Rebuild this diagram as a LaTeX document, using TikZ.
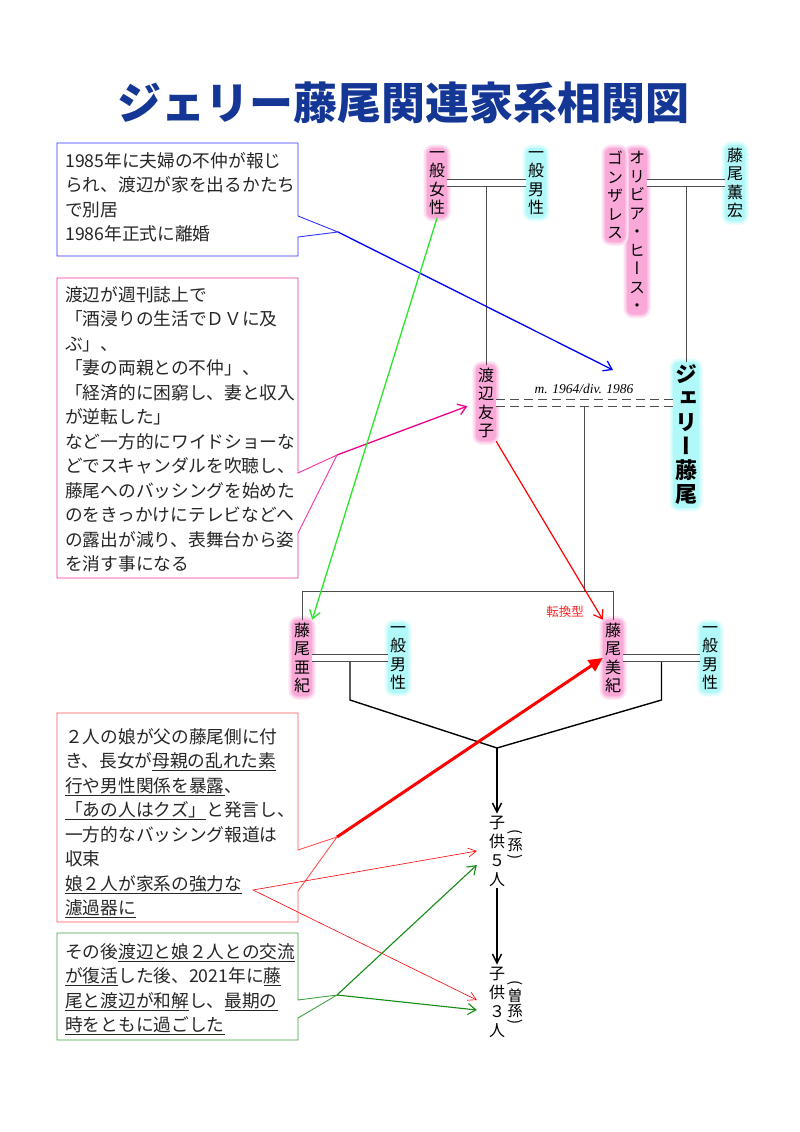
\documentclass[tikz,border=0pt]{standalone}
\usepackage{graphicx}
\usepackage{fontspec}
\setmainfont{Liberation Serif}
\newfontfamily\jpfont{Noto Sans CJK JP}
\newfontfamily\jpvert{Noto Sans CJK JP}[RawFeature=+vert]
\usetikzlibrary{positioning,arrows.meta,calc}

\definecolor{titleblue}{RGB}{20,55,150}
\definecolor{brightgreen}{RGB}{40,230,40}
\definecolor{darkgreen}{RGB}{20,140,20}
\definecolor{notered}{RGB}{255,80,80}
\definecolor{aqua}{RGB}{60,240,240}

\newcommand{\vparen}[1]{\rotatebox[origin=c]{-90}{#1}}

\tikzset{
  vname/.style={font=\jpvert\fontsize{16}{18.5}\selectfont, align=center,
    inner xsep=2pt, inner ysep=3pt, rounded corners=6pt},
  pinkname/.style={vname, preaction={draw=magenta!12, line width=7pt},
    preaction={draw=magenta!24, line width=3pt}, fill=magenta!34},
  cyanname/.style={vname, preaction={draw=aqua!14, line width=7pt},
    preaction={draw=aqua!28, line width=3pt}, fill=aqua!40},
  jerryname/.style={cyanname, font=\jpvert\bfseries\fontsize{22}{24}\selectfont},
  vplain/.style={font=\jpvert\fontsize{16}{19}\selectfont, align=center, inner sep=2pt},
  vsmall/.style={font=\jpfont\fontsize{15}{11}\selectfont, align=center, inner sep=0pt},
  famline/.style={draw=black!70, line width=0.9pt},
  marriage/.style={famline, double, double distance=6pt},
  divorce/.style={marriage, dash pattern=on 9pt off 5pt},
  branch/.style={draw=black, line width=1.4pt},
  down/.style={branch, -{Straight Barb[length=9pt,width=9pt]}},
  arr/.style={line width=1.3pt, -{Straight Barb[length=8pt,width=11pt]}},
  bigarr/.style={line width=3pt, -{Triangle[length=14pt,width=13pt]}},
  thinarr/.style={line width=0.6pt, -{Straight Barb[length=8pt,width=9pt]}},
  note/.style={font=\jpfont\fontsize{17.7}{24.5}\selectfont, text=black!85,
    align=left, anchor=north west, inner sep=0pt, text width=250pt},
  notebox/.style={line width=0.9pt},
}

\begin{document}
\begin{tikzpicture}[x=1pt,y=-1pt]
\useasboundingbox[fill=white] (0,0) rectangle (800,1132);

% title
\node[font=\jpfont\bfseries\fontsize{44}{48}\selectfont, text=titleblue] (title) at (403,103) {ジェリー藤尾関連家系相関図};

% grandparents
\node[pinkname] (ippanjo) at (437,183) {一\\般\\女\\性};
\node[cyanname] (ippandan) at (536,183) {一\\般\\男\\性};
\node[pinkname, anchor=north] (olivia) at (637,148) {オ\\リ\\ビ\\ア\\・\\ヒ\\ー\\ス\\・};
\node[pinkname, anchor=north] (gonzalez) at (615,148) {ゴ\\ン\\ザ\\レ\\ス};
\node[cyanname] (kaoru) at (735,183) {藤\\尾\\薫\\宏};

% parents
\node[pinkname] (watanabe) at (486,403) {渡\\辺\\友\\子};
\node[jerryname] (jerry) at (686,435) {ジ\\ェ\\リ\\ー\\藤\\尾};

% daughters
\node[pinkname] (aki) at (302,658) {藤\\尾\\亜\\紀};
\node[cyanname] (akihusband) at (398,658) {一\\般\\男\\性};
\node[pinkname] (miki) at (613,658) {藤\\尾\\美\\紀};
\node[cyanname] (mikihusband) at (710,658) {一\\般\\男\\性};

% descendants
\node[vplain] (mago) at (497,851) {子\\供\\５\\人};
\node[vsmall, anchor=north west] (magonote) at ([yshift=-16pt]mago.north east) {\vparen{(}\\孫\\\vparen{)}};
\node[vplain] (himago) at (497,1002) {子\\供\\３\\人};
\node[vsmall, anchor=north west] (himagonote) at ([yshift=-16pt]himago.north east) {\vparen{(}\\曽\\孫\\\vparen{)}};

% family lines
\coordinate (bar) at (0,591);
\coordinate (kneey) at (0,700);
\coordinate (join) at (497,748);
\coordinate (top1) at ($(ippanjo.east)!0.5!(ippandan.west)$);
\coordinate (top2) at ($(olivia.east |- kaoru.west)!0.5!(kaoru.west)$);
\coordinate (mid) at ($(watanabe.east)!0.5!(watanabe.east -| jerry.west)$);
\coordinate (akikids) at ($(aki.east)!0.5!(akihusband.west)$);
\coordinate (mikikids) at ($(miki.east)!0.5!(mikihusband.west)$);

\draw[famline] (top1) -- (top1 |- watanabe.north);
\draw[famline] (top2) -- (top2 |- jerry.north);
\draw[famline] ([yshift=-4pt]mid) -- (mid |- bar);
\draw[famline] (aki.north) -- (aki.north |- bar) -- (miki.north |- bar) -- (miki.north);
\draw[branch] (akikids) -- (akikids |- kneey) -- (join) -- (mikikids |- kneey) -- (mikikids);

\draw[marriage] (ippanjo.east) -- (ippandan.west);
\draw[marriage] (olivia.east |- kaoru.west) -- (kaoru.west);
\draw[divorce] (watanabe.east) -- (watanabe.east -| jerry.west);
\draw[marriage] (aki.east) -- (akihusband.west);
\draw[marriage] (miki.east) -- (mikihusband.west);

\node[font=\itshape\fontsize{13.5}{15}\selectfont] (marrlabel) at (584,389) {m. 1964/div. 1986};
\node[font=\jpfont\fontsize{12.5}{14}\selectfont, text=red!85] (tenkan) at (565,612) {転換型};

\draw[down] (join) -- (mago.north);
\draw[down] (mago.south) -- (himago.north);

% callout 1
\node[note] (note1) at (65,152) {1985年に夫婦の不仲が報じ\\られ、渡辺が家を出るかたち\\で別居\\1986年正式に離婚};
\coordinate (tip1) at (338,232);
\coordinate (jerrytip) at (613,370);
\draw[notebox, blue!80] (57,143) -- (298,143) -- (298,216) -- (tip1) -- (298,237) -- (298,256) -- (57,256) -- cycle;

% callout 2
\node[note] (note2) at (65,286) {渡辺が週刊誌上で\\「酒浸りの生活でＤＶに及\\ぶ」、\\「妻の両親との不仲」、\\「経済的に困窮し、妻と収入\\が逆転した」\\など一方的にワイドショーな\\どでスキャンダルを吹聴し、\\藤尾へのバッシングを始めた\\のをきっかけにテレビなどへ\\の露出が減り、表舞台から姿\\を消す事になる};
\coordinate (tip2) at (337,455);
\draw[notebox, magenta!80] (57,278) -- (298,278) -- (298,473) -- (tip2) -- (298,533) -- (298,578) -- (57,578) -- cycle;

% callout 3
\node[note] (note3) at (65,728) {２人の娘が父の藤尾側に付\\き、長女が\underline{母親の乱れた素}\\\underline{行や男性関係を暴露}、\\\underline{「あの人はクズ」}と発言し、\\一方的なバッシング報道は\\収束\\\underline{娘２人が家系の強力な}\\\underline{濾過器に}};
\coordinate (tip3) at (337,837);
\coordinate (src3) at (253,890);
\draw[notebox, notered] (57,713) -- (298,713) -- (298,850) -- (tip3) -- (298,891) -- (298,922) -- (57,922) -- cycle;

% callout 4
\node[note] (note4) at (65,943) {その後\underline{渡辺と娘２人との交流}\\\underline{が復活}した後、2021年に\underline{藤}\\\underline{尾と渡辺が和解}し、\underline{最期の}\\\underline{時をともに過ごした}};
\coordinate (tip4) at (337,995);
\draw[notebox, darkgreen!80] (57,933) -- (298,933) -- (298,1000) -- (tip4) -- (298,1018) -- (298,1040) -- (57,1040) -- cycle;

% arrows
\draw[arr, blue] (tip1) -- (jerrytip);
\draw[arr, magenta, shorten >=9pt] (tip2) -- (watanabe.west);
\draw[arr, brightgreen] (ippanjo.south) -- (aki.north east);
\draw[arr, red, line width=1.2pt] (watanabe.south east) -- (miki.north west);
\draw[bigarr, red] (tip3) -- (miki.west);
\draw[thinarr, red] (src3) -- ([xshift=-10pt]mago.west);
\draw[thinarr, red] (src3) -- ([xshift=-10pt,yshift=2pt]himago.west);
\draw[arr, darkgreen, line width=1.1pt] (tip4) -- ([xshift=-10pt,yshift=-14pt]mago.west);
\draw[arr, darkgreen, line width=1.1pt] (tip4) -- ([xshift=-10pt,yshift=-8pt]himago.west);
\end{tikzpicture}
\end{document}
